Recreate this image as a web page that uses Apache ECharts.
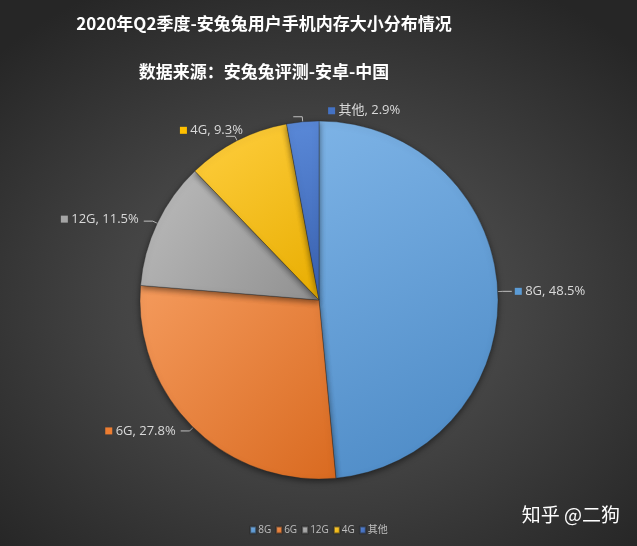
<!DOCTYPE html>
<html><head><meta charset="utf-8">
<script src="https://cdn.jsdelivr.net/npm/echarts@6/dist/echarts.min.js"></script>
<style>
html,body{margin:0;padding:0;width:637px;height:546px;overflow:hidden;}
body{background:radial-gradient(ellipse 70% 65% at 50% 55%, #575757 0%, #444 45%, #2e2e2e 85%, #262626 100%);}
#c{width:637px;height:546px;}
</style></head>
<body><div id="c"></div>
<script>
const title = '2020年Q2季度-安兔兔用户手机内存大小分布情况';
const subtitle = '数据来源：安兔兔评测-安卓-中国';
const categories = ['8G', '6G', '12G', '4G', '其他'];
const values = [48.5, 27.8, 11.5, 9.3, 2.9];
const colors = ['#5b9bd5', '#ed7d31', '#a5a5a5', '#ffc000', '#4472c4'];
const lightColors = ['#7db3e6', '#f49a5c', '#bdbdbd', '#ffcf40', '#5a89d8'];
const darkColors = ['#4a88c4', '#d96a20', '#909090', '#e8ad00', '#3961b0'];
// label nudges (dx, dy) to mimic the original label placement
const labelShift = [[-2, 0], [0, 0], [0, -2], [22, -6], [112, -6]];

const chart = echarts.init(document.getElementById('c'), null, {renderer: 'canvas'});
const rich = {t: {color: '#d9d9d9', fontSize: 13, fontFamily: 'Open Sans, Noto Sans CJK SC'}};
colors.forEach((c, i) => { rich['s' + i] = {width: 7, height: 7, backgroundColor: c}; });

chart.setOption({
  backgroundColor: 'transparent',
  animation: false,
  color: colors,
  title: [
    {text: title, left: 259, top: 10, textAlign: 'center',
     textStyle: {color: '#ffffff', fontSize: 17, fontWeight: 'bold', fontFamily: 'Noto Sans CJK SC'}},
    {text: subtitle, left: 259, top: 58, textAlign: 'center',
     textStyle: {color: '#ffffff', fontSize: 17, fontWeight: 'bold', fontFamily: 'Noto Sans CJK SC'}}
  ],
  legend: {
    bottom: 6, left: 'center',
    itemWidth: 6, itemHeight: 7, itemGap: 4,
    icon: 'rect',
    textStyle: {color: '#bfbfbf', fontSize: 10, fontFamily: 'Open Sans, Noto Sans CJK SC', padding: [0, 0, 0, -3]},
    data: categories
  },
  graphic: [{
    type: 'text', right: 17, top: 505,
    style: {text: '知乎 @二狗', fill: '#ffffff', fontSize: 19, fontFamily: 'Noto Sans CJK SC'}
  }],
  series: [{
    type: 'pie',
    center: [319, 300],
    radius: [0, 179],
    startAngle: 90,
    clockwise: true,
    itemStyle: {borderColor: 'rgba(40,40,40,0.6)', borderWidth: 0.6,
                shadowBlur: 6, shadowColor: 'rgba(0,0,0,0.5)', shadowOffsetY: 2},
    label: {
      show: true,
      formatter: p => '{s' + p.dataIndex + '|}{t| ' + p.name + ', ' + p.value.toFixed(1) + '%}',
      rich: rich
    },
    labelLine: {show: true, length: 5, length2: 9, lineStyle: {color: '#bfbfbf', width: 1}},
    labelLayout: p => ({dx: labelShift[p.dataIndex][0], dy: labelShift[p.dataIndex][1]}),
    data: categories.map((n, i) => ({
      name: n, value: values[i],
      itemStyle: {color: new echarts.graphic.LinearGradient(0, 0, 1, 1, [
        {offset: 0, color: lightColors[i]}, {offset: 1, color: darkColors[i]}
      ])}
    }))
  }]
});
</script>
</body></html>
